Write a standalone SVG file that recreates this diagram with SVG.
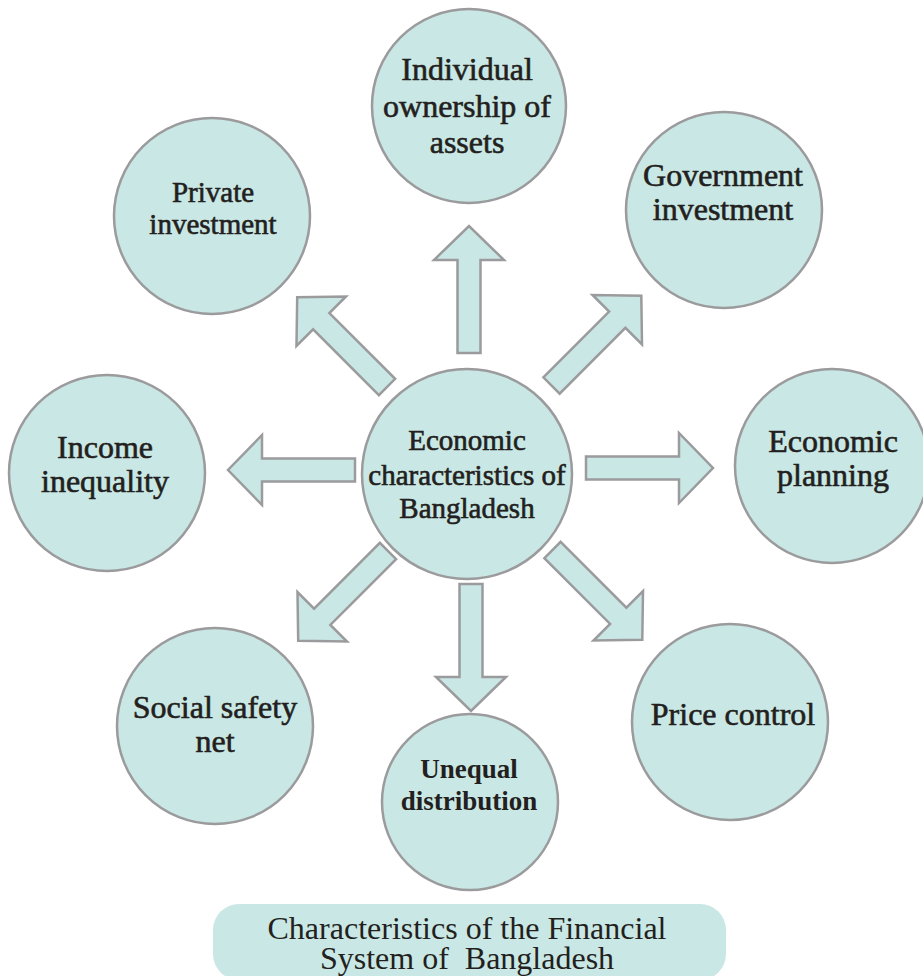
<svg xmlns="http://www.w3.org/2000/svg" width="923" height="976" viewBox="0 0 923 976">
<style>
.c{fill:#c9e7e4;stroke:#9b9b9d;stroke-width:2.5}
.a{fill:#c9e7e4;stroke:#9b9b9d;stroke-width:2.5;stroke-linejoin:miter}
text{fill:#231f20;text-anchor:middle}
.n{stroke:#231f20;stroke-width:0.6}
</style>
<defs>
<polygon id="arr" points="0,-11.5 93,-11.5 93,-35 127,0 93,35 93,11.5 0,11.5"/>
</defs>
<rect width="923" height="976" fill="#ffffff"/>
<g id="connectors">
<use href="#arr" class="a" transform="translate(469,353) rotate(-90)"/>
<use href="#arr" class="a" transform="translate(471,584) rotate(90)"/>
<use href="#arr" class="a" transform="translate(355,470) rotate(180)"/>
<use href="#arr" class="a" transform="translate(586,468) rotate(0)"/>
<use href="#arr" class="a" transform="translate(551.5,385.5) rotate(-45)"/>
<use href="#arr" class="a" transform="translate(387,387) rotate(-135)"/>
<use href="#arr" class="a" transform="translate(388,551) rotate(135)"/>
<use href="#arr" class="a" transform="translate(552.5,550) rotate(45)"/>
</g>
<g id="center">
<circle class="c" cx="467" cy="474" r="105"/>
<text class="n" font-family="Liberation Serif, serif" font-size="29"><tspan x="467" y="450">Economic</tspan><tspan x="467" y="485">characteristics of</tspan><tspan x="467" y="518">Bangladesh</tspan></text>
</g>
<g id="individual">
<circle class="c" cx="469" cy="106" r="97"/>
<text class="n" font-family="Liberation Serif, serif" font-size="32"><tspan x="467" y="80">Individual</tspan><tspan x="467" y="117">ownership of</tspan><tspan x="467" y="153">assets</tspan></text>
</g>
<g id="private">
<circle class="c" cx="212" cy="216" r="98"/>
<text class="n" font-family="Liberation Serif, serif" font-size="29"><tspan x="213" y="202">Private</tspan><tspan x="213" y="234">investment</tspan></text>
</g>
<g id="government">
<circle class="c" cx="724" cy="210" r="98"/>
<text class="n" font-family="Liberation Serif, serif" font-size="32"><tspan x="723" y="186">Government</tspan><tspan x="723" y="220">investment</tspan></text>
</g>
<g id="income">
<circle class="c" cx="107" cy="473" r="98"/>
<text class="n" font-family="Liberation Serif, serif" font-size="32"><tspan x="105" y="458">Income</tspan><tspan x="105" y="492">inequality</tspan></text>
</g>
<g id="planning">
<circle class="c" cx="832" cy="466" r="97"/>
<text class="n" font-family="Liberation Serif, serif" font-size="32"><tspan x="833" y="452">Economic</tspan><tspan x="833" y="486">planning</tspan></text>
</g>
<g id="safety">
<circle class="c" cx="215" cy="726" r="98"/>
<text class="n" font-family="Liberation Serif, serif" font-size="32"><tspan x="215" y="718">Social safety</tspan><tspan x="215" y="752">net</tspan></text>
</g>
<g id="unequal">
<circle class="c" cx="470" cy="802" r="88"/>
<text font-family="Liberation Serif, serif" font-weight="bold" font-size="27"><tspan x="469" y="778">Unequal</tspan><tspan x="469" y="810">distribution</tspan></text>
</g>
<g id="price">
<circle class="c" cx="730" cy="722" r="98"/>
<text class="n" font-family="Liberation Serif, serif" font-size="32"><tspan x="733" y="725">Price control</tspan></text>
</g>
<g id="caption">
<rect x="213" y="904" width="513" height="76" rx="26" fill="#c9e7e4"/>
<text font-family="Liberation Serif, serif" font-size="32" xml:space="preserve"><tspan x="467" y="939">Characteristics of the Financial</tspan><tspan x="467" y="969">System of  Bangladesh</tspan></text>
</g>
</svg>
